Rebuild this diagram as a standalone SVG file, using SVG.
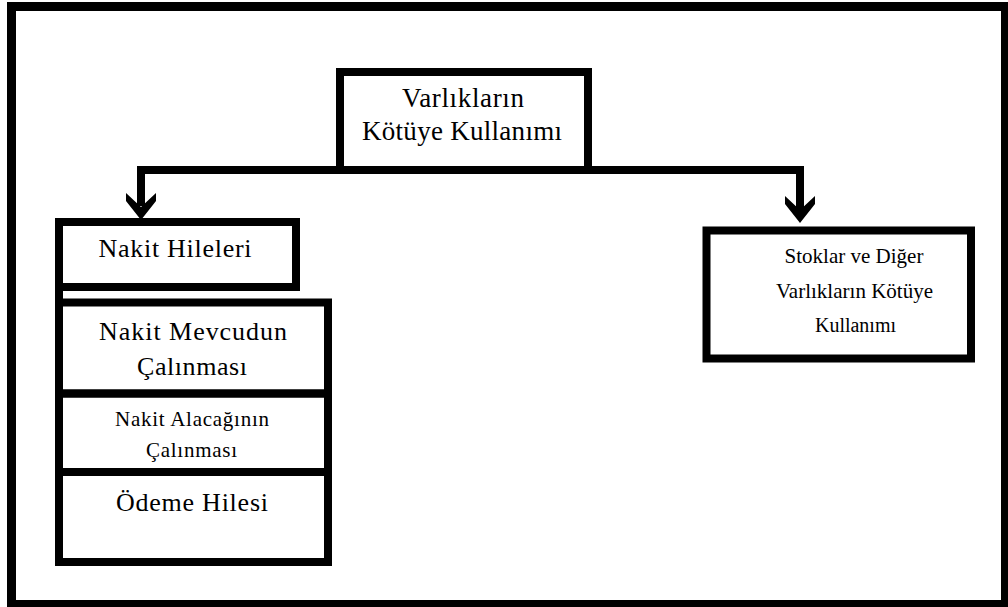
<svg xmlns="http://www.w3.org/2000/svg" width="1008" height="607" viewBox="0 0 1008 607">
<style>
.box{fill:none;stroke:#000;stroke-width:8}
.frame{fill:#fff;stroke:#000;stroke-width:9}
.conn{fill:none;stroke:#000;stroke-width:8}
.head{fill:#000;stroke:none}
text{font-family:"Liberation Serif","Times New Roman",serif;fill:#000;text-anchor:middle}
.t27{font-size:27px}
.t26{font-size:26px}
.t21{font-size:21px}
.t20{font-size:20px}
</style>
<rect class="frame" x="11.5" y="6.5" width="994" height="598"/>
<g id="connectors">
<path class="conn" d="M340 170 H141 V206"/>
<polygon class="head" points="126,193 141,207 156,193 156,201 141,220 126,201"/>
<path class="conn" d="M588 170 H800 V210"/>
<polygon class="head" points="785,196 800,210 815,196 815,204 800,223 785,204"/>
<path class="conn" d="M59 287 V303"/>
</g>
<g id="root">
<rect class="box" x="340" y="72" width="248" height="98"/>
<text class="t27" x="463" y="107" textLength="122" lengthAdjust="spacing">Varlıkların</text>
<text class="t27" x="462" y="140" textLength="200" lengthAdjust="spacing">Kötüye Kullanımı</text>
</g>
<g id="nakit-hileleri">
<rect class="box" x="59" y="222" width="237" height="65"/>
<text class="t26" x="175" y="257" textLength="153" lengthAdjust="spacing">Nakit Hileleri</text>
</g>
<g id="nakit-mevcudun">
<rect class="box" x="59" y="302.5" width="269" height="91"/>
<text class="t26" x="193" y="340" textLength="188" lengthAdjust="spacing">Nakit Mevcudun</text>
<text class="t26" x="192" y="375" textLength="110" lengthAdjust="spacing">Çalınması</text>
</g>
<g id="nakit-alacagi">
<rect class="box" x="59" y="393.5" width="269" height="78.5"/>
<text class="t21" x="192" y="426" textLength="154" lengthAdjust="spacing">Nakit Alacağının</text>
<text class="t21" x="191.5" y="457" textLength="91" lengthAdjust="spacing">Çalınması</text>
</g>
<g id="odeme-hilesi">
<rect class="box" x="59" y="472" width="269" height="90"/>
<text class="t26" x="192" y="511" textLength="152" lengthAdjust="spacing">Ödeme Hilesi</text>
</g>
<g id="stoklar">
<rect class="box" x="706.5" y="230.5" width="264.5" height="128"/>
<text class="t21" x="854" y="263">Stoklar ve Diğer</text>
<text class="t21" x="854.5" y="298" textLength="157" lengthAdjust="spacing">Varlıkların Kötüye</text>
<text class="t20" x="855.5" y="332">Kullanımı</text>
</g>
</svg>
